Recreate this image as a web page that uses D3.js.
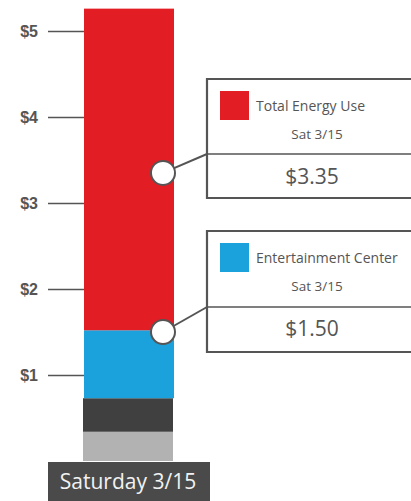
<!DOCTYPE html>
<html>
<head>
<meta charset="utf-8">
<script src="https://cdn.jsdelivr.net/npm/d3@7"></script>
<style>
  body { margin: 0; background: #fff; }
  svg { display: block; font-family: "Open Sans", "Noto Sans", sans-serif; }
</style>
</head>
<body>
<script>
"use strict";

// data
const segments = ['Other', 'Lighting', 'Entertainment Center', 'Total Energy Use'];
const segValues = [0.34, 0.39, 0.79, 3.74];
const segColors = ['#b3b2b2', '#404040', '#1ba1db', '#e31d24'];
const tickValues = [1, 2, 3, 4, 5];
const dayLabel = 'Saturday 3/15';
const callouts = [
    {name: 'Total Energy Use', date: 'Sat 3/15', value: 3.35, color: '#e31d24'},
    {name: 'Entertainment Center', date: 'Sat 3/15', value: 1.50, color: '#1ba1db'}
];

const w = 411, h = 501;
const svg = d3.select('body').append('svg')
    .attr('width', w)
    .attr('height', h);

// $0 sits at 461, $1 every 86px
const y = d3.scaleLinear().domain([0, 5]).range([461, 31]);
const barX = 84, barW = 90;

// stack
let acc = 0;
const stack = segValues.map((v, i) => {
    const d = {y0: acc, y1: acc + v, color: segColors[i], i: i};
    acc += v;
    return d;
});

svg.append('g').selectAll('rect')
    .data(stack)
    .enter()
    .append('rect')
    .attr('x', (d) => d.i < 2 ? barX - 1 : barX)
    .attr('width', barW)
    .attr('y', (d) => y(d.y1))
    .attr('height', (d) => y(d.y0) - y(d.y1))
    .attr('fill', (d) => d.color);

// axis: ticks reach the bar
const axis = d3.axisLeft(y)
    .tickValues(tickValues)
    .tickFormat((d) => '$' + d)
    .tickSize(36)
    .tickPadding(10);
const gAxis = svg.append('g')
    .attr('transform', 'translate(' + barX + ',0)')
    .call(axis);
gAxis.select('.domain').remove();
gAxis.selectAll('line').attr('stroke', '#555').attr('stroke-width', 1.3);
gAxis.selectAll('text')
    .attr('fill', '#555')
    .style('font-size', '16px')
    .style('font-weight', 'bold');

// day label
const lab = svg.append('g');
lab.append('rect')
    .attr('x', 48).attr('y', y(0) + 1)
    .attr('width', 162).attr('height', h - y(0))
    .attr('fill', '#4a4a4a');
lab.append('text')
    .attr('x', 128).attr('y', 489)
    .attr('text-anchor', 'middle')
    .attr('fill', '#f2f2f2')
    .style('font-size', '21px')
    .text(dayLabel);

// callouts
const boxTops = [79, 231];
const boxX = 207, boxH = [119, 121], divOff = [75, 76];
callouts.forEach((c, i) => {
    const g = svg.append('g');
    const top = boxTops[i];
    const cy = y(c.value);
    const cx = 163;
    const divY = top + divOff[i];
    g.append('line')
        .attr('x1', cx).attr('y1', cy)
        .attr('x2', boxX).attr('y2', divY)
        .attr('stroke', '#555').attr('stroke-width', 2);
    g.append('path')
        .attr('d', 'M' + (w + 5) + ',' + top + 'H' + boxX + 'V' + (top + boxH[i]) + 'H' + (w + 5))
        .attr('fill', '#fff')
        .attr('stroke', '#555').attr('stroke-width', 2.2);
    g.append('line')
        .attr('x1', boxX).attr('x2', w)
        .attr('y1', divY).attr('y2', divY)
        .attr('stroke', '#555').attr('stroke-width', 1.3);
    g.append('rect')
        .attr('x', 220).attr('y', top + 12)
        .attr('width', 29).attr('height', 29)
        .attr('fill', c.color);
    g.append('text')
        .attr('x', 256).attr('y', top + 32)
        .attr('fill', '#555')
        .style('font-size', '14px')
        .text(c.name);
    g.append('text')
        .attr('x', 317).attr('y', top + 60)
        .attr('text-anchor', 'middle')
        .attr('fill', '#555')
        .style('font-size', '13.5px')
        .text(c.date);
    g.append('text')
        .attr('x', 312).attr('y', top + 105)
        .attr('text-anchor', 'middle')
        .attr('fill', '#555')
        .style('font-size', '21px')
        .text('$' + c.value.toFixed(2));
    g.append('circle')
        .attr('cx', cx).attr('cy', cy).attr('r', 12)
        .attr('fill', '#fff')
        .attr('stroke', '#555').attr('stroke-width', 2);
});
</script>
</body>
</html>
